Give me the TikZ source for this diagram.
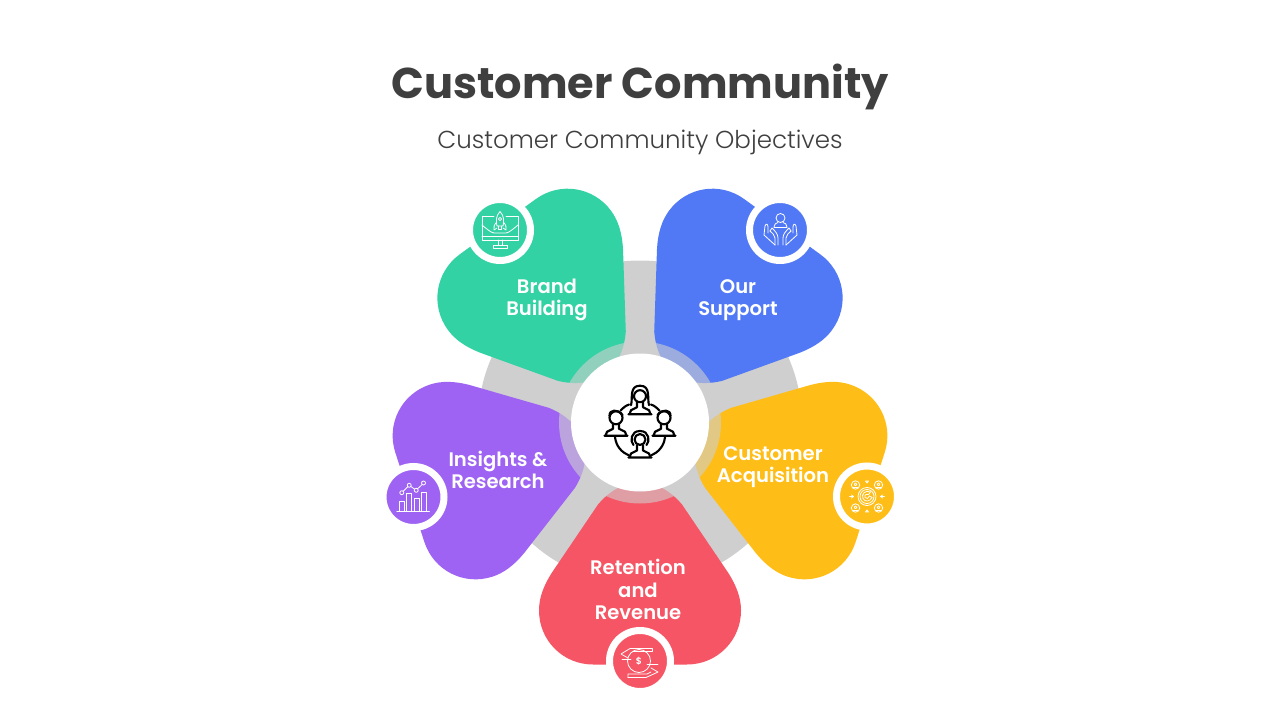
\documentclass[tikz,border=0pt]{standalone}
\usepackage{fontspec}
\setmainfont{Poppins}[BoldFont={Poppins SemiBold}]
\newfontfamily\lightfont{Poppins Light}
\newfontfamily\titlefont{Poppins}[UprightFont={* Bold}]
\usepackage{tikz}

\definecolor{inkgrey}{HTML}{3F3F3F}
\definecolor{discgrey}{HTML}{CFCFCF}
\definecolor{brandgreen}{HTML}{33D2A4}
\definecolor{supportblue}{HTML}{5179F5}
\definecolor{acquireyellow}{HTML}{FFBE17}
\definecolor{revenuered}{HTML}{F55564}
\definecolor{insightpurple}{HTML}{9E63F3}

% one petal, pointing down from the hub
\newcommand{\petalpath}{(0,60) .. controls (-16,60) and (-30,68) .. (-42,82)
  -- (-88,150) .. controls (-97,164) and (-101,176) .. (-101,188)
  .. controls (-101,218) and (-77,242) .. (-47,242) -- (47,242)
  .. controls (77,242) and (101,218) .. (101,188)
  .. controls (101,176) and (97,164) .. (88,150) -- (42,82)
  .. controls (30,68) and (16,60) .. (0,60) -- cycle}

% one person of the hub icon, #1 is the face radius
\newcommand{\bustfigure}[1]{
  \draw (0,-10) circle [radius=#1];
  \draw (-3,-4) -- (-3,1) -- (-9,4) (3,-4) -- (3,1) -- (9,4);
  \draw (-11.5,8) -- (11.5,8) (-9,4) -- (-10.5,8) (9,4) -- (10.5,8);
}

\begin{document}
\begin{tikzpicture}[x=0.75pt,y=-0.75pt,
    petal/.style={shift={(640,422.5)},rotate=#1},
    iconbase/.style={circle,draw=white,line width=5.25pt,minimum size=45.75pt,inner sep=0pt},
    iconline/.style={draw=white,line width=0.6pt,line cap=round,line join=round},
    hubline/.style={draw=black,line width=1.6pt,line cap=round,line join=round},
    petaltext/.style={text=white,align=center,font=\fontsize{14.7}{16.6}\selectfont\bfseries}]

\useasboundingbox (0,0) rectangle (1280,720);
\fill[white] (0,0) rectangle (1280,720);

% Headings
\node[text=inkgrey,font=\fontsize{32.3}{36}\selectfont\titlefont] (title) at (640,86.5) {Customer Community};
\node[text=inkgrey,font=\fontsize{18.4}{20}\selectfont\lightfont] (subtitle) at (640,142) {Customer Community Objectives};

% Grey disc behind the petals
\fill[discgrey] (640,422.5) circle [radius=162];

% Petals
\fill[revenuered,petal=0] \petalpath;
\fill[insightpurple,petal=-72] \petalpath;
\fill[brandgreen,petal=-144] \petalpath;
\fill[supportblue,petal=-216] \petalpath;
\fill[acquireyellow,petal=-288] \petalpath;

% Hub
\fill[discgrey,opacity=0.6] (640,422.5) circle [radius=81];
\node[circle,fill=white,minimum size=103.5pt,inner sep=0pt] (hub) at (640,422.5) {};

% Petal labels
\node[petaltext] (brand) at (547,300) {Brand\\Building};
\node[petaltext] (support) at (738,300) {Our\\Support};
\node[petaltext] (insights) at (498,470) {Insights \&\\Research};
\node[petaltext] (acquisition) at (773,467) {Customer\\Acquisition};
\node[petaltext] (retention) at (638,589.5) {Retention\\and\\Revenue};

% Icon discs
\node[iconbase,fill=brandgreen] (brandicon) at (500,230) {};
\node[iconbase,fill=supportblue] (supporticon) at (780,230) {};
\node[iconbase,fill=insightpurple] (insighticon) at (413.5,497) {};
\node[iconbase,fill=acquireyellow] (acquireicon) at (867,496.5) {};
\node[iconbase,fill=revenuered] (revenueicon) at (640,661) {};

% Rocket on a monitor
\begin{scope}[shift={(500,230)},iconline]
\draw (-6,-14) -- (-18,-14) -- (-18,10) -- (18,10) -- (18,-14) -- (6,-14);
\draw (-18,6.5) -- (18,6.5);
\draw (-2,10) -- (-2,15) (2,10) -- (2,15) (-7,15) rectangle (7,18);
\draw (-18,-5) .. controls (-12,0) and (-9,2.5) .. (-6,3) -- (6,3) .. controls (9,2.5) and (12,0) .. (18,-5);
\draw (0,-18.5) .. controls (-4.5,-14) and (-4,-8) .. (-3,-4) -- (3,-4) .. controls (4,-8) and (4.5,-14) .. (0,-18.5);
\draw (0,-11) circle [radius=1.6];
\draw (-3.3,-8) .. controls (-6,-5) and (-6.5,-3) .. (-6,0) -- (-3,-2);
\draw (3.3,-8) .. controls (6,-5) and (6.5,-3) .. (6,0) -- (3,-2);
\draw (-1.5,-4) -- (-1.5,-0.5) -- (1.5,-0.5) -- (1.5,-4);
\end{scope}

% Person held in two hands
\begin{scope}[shift={(780,230)},iconline]
\draw (0.5,-12) circle [radius=4.5];
\draw (-6,-3) .. controls (-6,-6) and (-4,-7) .. (-2,-7.5) (7,-3) .. controls (7,-6) and (5,-7) .. (3,-7.5);
\draw (-6,-3) -- (7,-3);
\draw (-5,15) -- (-5,8) .. controls (-5,5) and (-8,3) .. (-10,1);
\draw (-2,15) -- (-2,8) .. controls (-2,4) and (-5,1) .. (-8,-2) -- (-10,1);
\draw (-5,15) -- (-16,5) -- (-15,-4) .. controls (-14,-7) and (-12,-6) .. (-12,-3) -- (-12,3);
\draw (6,15) -- (6,8) .. controls (6,5) and (9,3) .. (11,1);
\draw (3,15) -- (3,8) .. controls (3,4) and (6,1) .. (9,-2) -- (11,1);
\draw (6,15) -- (17,5) -- (16,-4) .. controls (15,-7) and (13,-6) .. (13,-3) -- (13,3);
\end{scope}

% Magnet and customers
\begin{scope}[shift={(867,496.5)},iconline]
\draw (0,0) circle [radius=9];
\draw (0,0) circle [radius=7];
\draw (3.5,-4.5) .. controls (-2,-7) and (-6,-2) .. (-4,2) .. controls (-2,6) and (3,5) .. (5,1);
\draw (1.5,-2) .. controls (-2,-3) and (-3,0) .. (-2,1) .. controls (-1,3) and (2,2) .. (2.5,-0.5);
\draw (3.5,-4.5) -- (1.5,-2) (5,1) -- (2.5,-0.5);
\foreach \dx/\dy in {-11.5/-11.5,11.5/-11.5,-11.5/11.5,11.5/11.5}{
  \draw (\dx,\dy) circle [radius=4.2];
  \draw (\dx,\dy-0.7) circle [radius=1.4];
  \draw (\dx-2.2,\dy+2.8) -- (\dx+2.2,\dy+2.8);
}
\draw (-15.5,-1.5) -- (-13.5,0) -- (-15.5,1.5) (-17.5,0) -- (-13.5,0);
\draw (15.5,-1.5) -- (13.5,0) -- (15.5,1.5) (17.5,0) -- (13.5,0);
\draw (-1.5,-15.5) -- (0,-13.5) -- (1.5,-15.5) -- cycle;
\draw (-1.5,15.5) -- (0,13.5) -- (1.5,15.5) -- cycle;
\end{scope}

% Coin between two hands
\begin{scope}[shift={(640,661)},iconline]
\draw (-1,0) circle [radius=11.5];
\draw (12,-12.5) -- (-10,-12.5) -- (-19,-7) -- (-12,-3);
\draw (12,-12.5) -- (12,-9.5) -- (-7,-9.5);
\draw (-18,-2) -- (-9,-2) (7,3) -- (18,3);
\draw (-12,16.5) -- (6,16.5) -- (18,11) -- (11,7);
\draw (-12,16.5) -- (-12,13) -- (7,13) -- (11,11);
\node[text=white,inner sep=0pt,font=\fontsize{7}{7}\selectfont\bfseries] (coin) at (-1,0) {\$};
\end{scope}

% Bars and trend line
\begin{scope}[shift={(413.5,497)},iconline]
\draw (-16.7,14) -- (16,14);
\draw (-14.3,14) -- (-14.3,4.3) -- (-9,4.3) -- (-9,14);
\draw (-6.7,14) -- (-6.7,-3.3) -- (-1.7,-3.3) -- (-1.7,14);
\draw (0.7,14) -- (0.7,1.7) -- (6,1.7) -- (6,14);
\draw (7.7,14) -- (7.7,-5) -- (12.7,-5) -- (12.7,14);
\draw (-11.7,-4.3) circle [radius=2] (-4.3,-11.7) circle [radius=2] (2.7,-6.7) circle [radius=2] (10,-14) circle [radius=2];
\draw (-10.3,-5.7) -- (-5.7,-10.3) (-2.6,-10.5) -- (1,-7.9) (4,-8.2) -- (8.7,-12.5);
\end{scope}

% People around the hub
\begin{scope}[shift={(640,422.5)},hubline]
\draw (-11,-18) .. controls (-15,-16.5) and (-17,-14.5) .. (-19.5,-12);
\draw (11,-18) .. controls (15,-16.5) and (17,-14.5) .. (19.5,-12);
\draw (-25,14.5) .. controls (-24,24) and (-18,30) .. (-11,33);
\draw (25,14.5) .. controls (24,24) and (18,30) .. (11,33);
\begin{scope}[shift={(0,-16.3)}]
\bustfigure{6}
\draw (-9,-1) .. controls (-7,-8) and (-11,-20.5) .. (0,-20.5) .. controls (11,-20.5) and (7,-8) .. (9,-1);
\end{scope}
\begin{scope}[shift={(-24,5.3)}]
\bustfigure{6.5}
\draw (-6.5,-12) .. controls (-7,-18.5) and (2,-19) .. (6.5,-13);
\end{scope}
\begin{scope}[shift={(24,5.3)}]
\bustfigure{6.5}
\draw (6.5,-12) .. controls (7,-18.5) and (-2,-19) .. (-6.5,-13);
\end{scope}
\begin{scope}[shift={(0,27)}]
\bustfigure{5.5}
\draw (-6.5,-4.5) .. controls (-10,-8) and (-9.5,-18.5) .. (0,-18.5) .. controls (9.5,-18.5) and (10,-8) .. (6.5,-4.5);
\end{scope}
\end{scope}

\end{tikzpicture}
\end{document}
